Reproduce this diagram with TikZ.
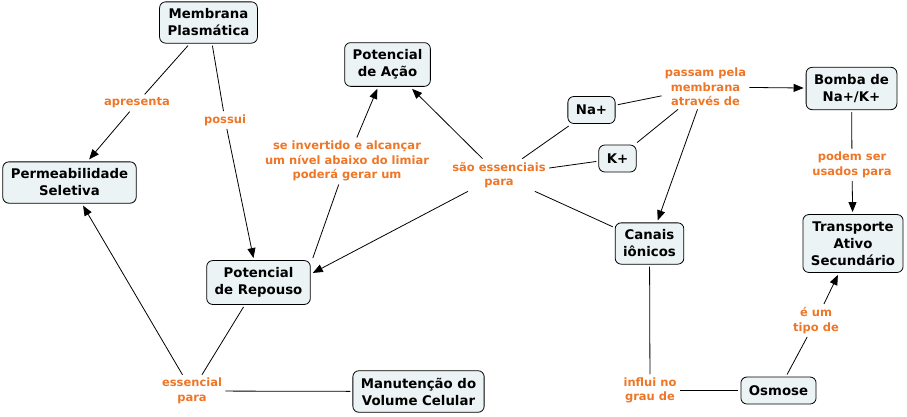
\documentclass[tikz,border=0pt]{standalone}
\usepackage{fontspec}
\setmainfont{DejaVu Sans}
\usetikzlibrary{arrows.meta}
\definecolor{rotulo}{RGB}{238,118,38}
\definecolor{caixa}{RGB}{236,243,245}

\begin{document}
\begin{tikzpicture}[x=1pt,y=-1pt,line width=.8pt,
      conceito/.style={draw,fill=caixa,rounded corners=6pt,align=center,
        font=\fontsize{13.3}{17}\selectfont\bfseries,inner xsep=8pt,
        inner ysep=7pt,minimum height=27pt,outer sep=2.5pt},
      frase/.style={align=center,text=rotulo,inner sep=3pt,
        font=\fontsize{11.5}{14.5}\selectfont\bfseries},
      seta/.style={-{Triangle[length=10pt,width=8pt]}}]
    \useasboundingbox (0,0) rectangle (907,416);

    % conceitos
    \node[conceito] (membrana) at (208.5,22.5) {Membrana\\Plasmática};
    \node[conceito] (acao) at (387.5,64.5) {Potencial\\de Ação};
    \node[conceito] (permeab) at (69.5,182.5) {Permeabilidade\\Seletiva};
    \node[conceito] (repouso) at (258.5,282.5) {Potencial\\de Repouso};
    \node[conceito] (volume) at (418.5,391.5) {Manutenção do\\Volume Celular};
    \node[conceito] (na) at (591.5,110) {Na+};
    \node[conceito] (k) at (617.5,158.5) {K+};
    \node[conceito] (bomba) at (851.5,88.5) {Bomba de\\Na+/K+};
    \node[conceito] (canais) at (649.5,243.5) {Canais\\iônicos};
    \node[conceito] (transp) at (853,243.5) {Transporte\\Ativo\\Secundário};
    \node[conceito] (osmose) at (778.5,390.5) {Osmose};

    % frases de ligacao
    \node[frase] (apresenta) at (137,103) {apresenta};
    \node[frase] (possui) at (225,120) {possui};
    \node[frase] (invertido) at (347,161) {se invertido e alcançar\\um nível abaixo do limiar\\poderá gerar um};
    \node[frase] (essenciais) at (499,175) {são essenciais\\para};
    \node[frase] (passam) at (705.5,87) {passam pela\\membrana\\através de};
    \node[frase] (podem) at (852,165) {podem ser\\usados para};
    \node[frase] (essencial) at (192,391) {essencial\\para};
    \node[frase] (influi) at (650,390.5) {influi no\\grau de};
    \node[frase] (tipo) at (816,320.5) {é um\\tipo de};

    % ligacoes
    \draw (membrana) -- (apresenta);
    \draw[seta] (apresenta) -- (permeab);
    \draw (membrana) -- (possui);
    \draw[seta] (possui) -- (repouso);
    \draw (repouso.north east) -- (invertido);
    \draw[seta] (invertido) -- (acao);
    \draw (na) -- (essenciais);
    \draw (k) -- (essenciais);
    \draw (canais) -- (essenciais);
    \draw[seta] (essenciais) -- (acao);
    \draw[seta] (essenciais) -- (repouso.10);
    \draw (na) -- (passam);
    \draw (k) -- (passam);
    \draw[seta] (passam) -- (bomba);
    \draw[seta] (passam) -- (canais);
    \draw (bomba) -- (podem);
    \draw[seta] (podem) -- (transp);
    \draw (repouso) -- (essencial);
    \draw (volume) -- (essencial);
    \draw[seta] (essencial) -- (permeab);
    \draw (canais) -- (influi);
    \draw (osmose) -- (influi);
    \draw (osmose) -- (tipo);
    \draw[seta] (tipo) -- (transp);
  \end{tikzpicture}
\end{document}
